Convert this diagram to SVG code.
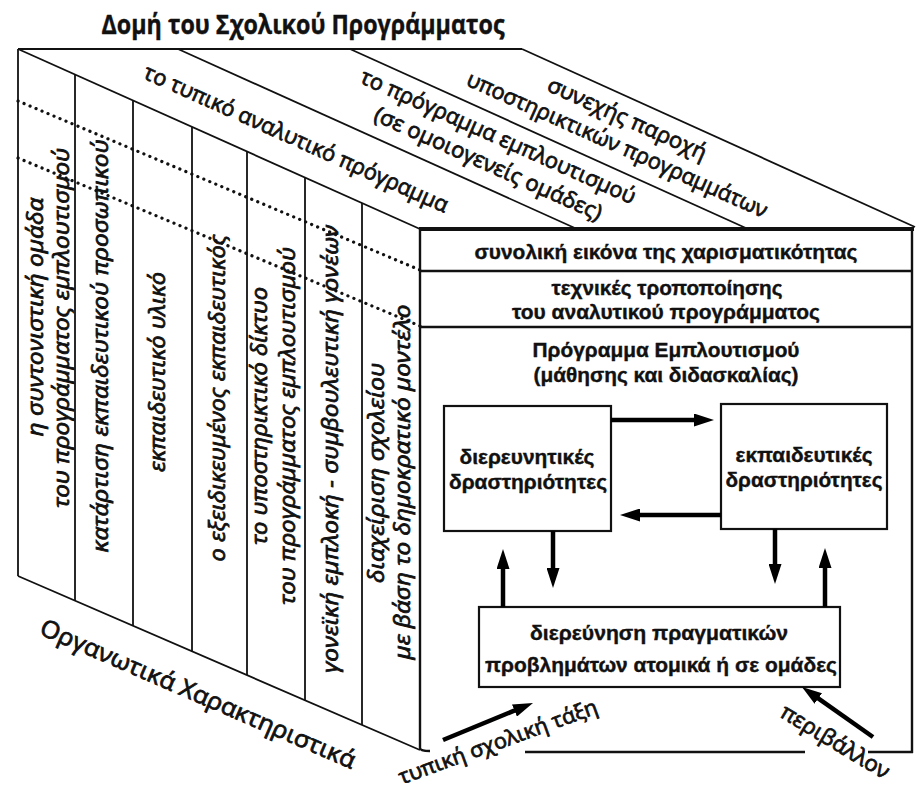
<svg xmlns="http://www.w3.org/2000/svg" width="922" height="794" viewBox="0 0 922 794">
<style>
.ln{stroke:#111;stroke-width:1.8;fill:none}
.fl{stroke:#111;stroke-width:2.4;fill:none}
.dot{stroke:#111;stroke-width:3.2;stroke-linecap:round;stroke-dasharray:0.1 6.4;fill:none}
.box{stroke:#111;stroke-width:2.2;fill:#fff}
.arr{stroke:#000;stroke-width:4.5;fill:none}
.hum{font-family:"Open Sans","DejaVu Sans",sans-serif;fill:#111;stroke:#111;stroke-width:0.8}
.it{font-family:"Open Sans","DejaVu Sans",sans-serif;font-style:italic;font-size:22px;fill:#111;stroke:#111;stroke-width:0.8;text-anchor:middle}
.top{font-family:"Open Sans","DejaVu Sans",sans-serif;font-size:22px;fill:#111;stroke:#111;stroke-width:0.8;text-anchor:middle}
.ar{font-family:"Liberation Sans",Arial,sans-serif;font-weight:bold;font-size:21px;fill:#111;stroke:#111;stroke-width:0.4;text-anchor:middle}
</style>
<defs>
<marker id="ah" viewBox="0 0 20 13" refX="1" refY="6.5" markerWidth="20" markerHeight="13" markerUnits="userSpaceOnUse" orient="auto">
<path d="M0,0 L20,6.5 L0,13 z" fill="#000"/>
</marker>
</defs>
<rect width="922" height="794" fill="#fff"/>

<g id="title">
<text x="303" y="34" font-family="'Open Sans','DejaVu Sans',sans-serif" fill="#111" stroke="#111" stroke-width="0.4" font-size="26" font-weight="bold" text-anchor="middle" textLength="403" lengthAdjust="spacingAndGlyphs">Δομή του Σχολικού Προγράμματος</text>
</g>

<g id="top-face">
<line class="ln" x1="18" y1="49" x2="522" y2="49"/>
<line class="ln" x1="18" y1="49" x2="420" y2="229"/>
<line class="ln" x1="178" y1="49" x2="577" y2="229"/>
<line class="ln" x1="350" y1="49" x2="748" y2="229"/>
<line class="ln" x1="522" y1="49" x2="915" y2="227"/>
<g id="strip-typical">
<text class="top" transform="translate(296,139) rotate(24.1)" y="7" textLength="331" lengthAdjust="spacingAndGlyphs">το τυπικό αναλυτικό πρόγραμμα</text>
</g>
<g id="strip-enrichment">
<text class="top" transform="translate(498,137) rotate(24.1)" y="7" textLength="299" lengthAdjust="spacingAndGlyphs">το πρόγραμμα εμπλουτισμού</text>
<text class="top" transform="translate(488,164) rotate(24.1)" y="7" textLength="247" lengthAdjust="spacingAndGlyphs">(σε ομοιογενείς ομάδες)</text>
</g>
<g id="strip-support">
<text class="top" transform="translate(627,119) rotate(24.1)" y="7" textLength="172" lengthAdjust="spacingAndGlyphs">συνεχής παροχή</text>
<text class="top" transform="translate(617,145) rotate(24.1)" y="7" textLength="327" lengthAdjust="spacingAndGlyphs">υποστηρικτικών προγραμμάτων</text>
</g>
</g>

<g id="left-face">
<line class="ln" x1="18" y1="49" x2="18" y2="576"/>
<line class="ln" x1="18" y1="576" x2="420" y2="750"/>
<line class="ln" x1="75" y1="74.5" x2="75" y2="600.7"/>
<line class="ln" x1="133" y1="100.5" x2="133" y2="625.8"/>
<line class="ln" x1="192" y1="126.9" x2="192" y2="651.3"/>
<line class="ln" x1="247" y1="151.5" x2="247" y2="675.1"/>
<line class="ln" x1="305" y1="177.5" x2="305" y2="700.2"/>
<line class="ln" x1="362" y1="203" x2="362" y2="724.9"/>
<path class="dot" d="M18,101 L420,270"/>
<path class="dot" d="M18,158 L420,326"/>
<g id="panel-1">
<text class="it" transform="translate(36,317) rotate(-90)" y="7" textLength="239" lengthAdjust="spacingAndGlyphs">η συντονιστική ομάδα</text>
<text class="it" transform="translate(62,328) rotate(-90)" y="7" textLength="360" lengthAdjust="spacingAndGlyphs">του προγράμματος εμπλουτισμού</text>
</g>
<g id="panel-2">
<text class="it" transform="translate(101,346) rotate(-90)" y="7" textLength="413" lengthAdjust="spacingAndGlyphs">κατάρτιση εκπαιδευτικού προσωπικού</text>
</g>
<g id="panel-3">
<text class="it" transform="translate(158,372) rotate(-90)" y="7" textLength="200" lengthAdjust="spacingAndGlyphs">εκπαιδευτικό υλικό</text>
</g>
<g id="panel-4">
<text class="it" transform="translate(218,398) rotate(-90)" y="7" textLength="327" lengthAdjust="spacingAndGlyphs">ο εξειδικευμένος εκπαιδευτικός</text>
</g>
<g id="panel-5">
<text class="it" transform="translate(260,416) rotate(-90)" y="7" textLength="258" lengthAdjust="spacingAndGlyphs">το υποστηρικτικό δίκτυο</text>
<text class="it" transform="translate(288,426) rotate(-90)" y="7" textLength="358" lengthAdjust="spacingAndGlyphs">του προγράμματος εμπλουτισμού</text>
</g>
<g id="panel-6">
<text class="it" transform="translate(331,449) rotate(-90)" y="7" textLength="448" lengthAdjust="spacingAndGlyphs">γονεϊκή εμπλοκή - συμβουλευτική γονέων</text>
</g>
<g id="panel-7">
<text class="it" transform="translate(377,473) rotate(-90)" y="7" textLength="220" lengthAdjust="spacingAndGlyphs">διαχείριση σχολείου</text>
<text class="it" transform="translate(403,482) rotate(-90)" y="7" textLength="355" lengthAdjust="spacingAndGlyphs">με βάση το δημοκρατικό μοντέλο</text>
</g>
<g id="org-label">
<text class="hum" font-size="24" text-anchor="middle" transform="translate(198,694) rotate(23.4)" y="8" textLength="341" lengthAdjust="spacingAndGlyphs">Οργανωτικά Χαρακτηριστικά</text>
</g>
</g>

<g id="front-face">
<line x1="419" y1="229" x2="914" y2="229" stroke="#111" stroke-width="4"/>
<path class="fl" d="M420,229 V748 Q420,751 430,751"/>
<line class="fl" x1="912" y1="229" x2="912" y2="753"/>
<line class="fl" x1="525" y1="752" x2="805" y2="752"/>
<line class="fl" x1="868" y1="752" x2="913" y2="752"/>
<line class="fl" x1="420" y1="271" x2="912" y2="271"/>
<line class="fl" x1="420" y1="327" x2="912" y2="327"/>
<g id="band-giftedness">
<text class="ar" x="666" y="259" textLength="383" lengthAdjust="spacingAndGlyphs">συνολική εικόνα της χαρισματικότητας</text>
</g>
<g id="band-techniques">
<text class="ar" x="667" y="295" textLength="231" lengthAdjust="spacingAndGlyphs">τεχνικές τροποποίησης</text>
<text class="ar" x="666" y="319" textLength="308" lengthAdjust="spacingAndGlyphs">του αναλυτικού προγράμματος</text>
</g>
<g id="band-program">
<text class="ar" x="666" y="357" textLength="267" lengthAdjust="spacingAndGlyphs">Πρόγραμμα Εμπλουτισμού</text>
<text class="ar" x="666" y="382" textLength="265" lengthAdjust="spacingAndGlyphs">(μάθησης και διδασκαλίας)</text>
</g>
</g>

<g id="box-exploratory">
<rect class="box" x="444" y="406" width="167" height="125"/>
<text class="ar" x="527" y="464" font-size="22" textLength="135" lengthAdjust="spacingAndGlyphs">διερευνητικές</text>
<text class="ar" x="528" y="489" font-size="22" textLength="158" lengthAdjust="spacingAndGlyphs">δραστηριότητες</text>
</g>
<g id="box-educational">
<rect class="box" x="721" y="404" width="166" height="125"/>
<text class="ar" x="804" y="462" font-size="22" textLength="137" lengthAdjust="spacingAndGlyphs">εκπαιδευτικές</text>
<text class="ar" x="804" y="487" font-size="22" textLength="157" lengthAdjust="spacingAndGlyphs">δραστηριότητες</text>
</g>
<g id="box-problems">
<rect class="box" x="479" y="607" width="361" height="80"/>
<text class="ar" x="659" y="640" font-size="22" textLength="258" lengthAdjust="spacingAndGlyphs">διερεύνηση πραγματικών</text>
<text class="ar" x="661" y="672" font-size="22" textLength="352" lengthAdjust="spacingAndGlyphs">προβλημάτων ατομικά ή σε ομάδες</text>
</g>
<g id="label-classroom">
<text class="hum" font-size="21" text-anchor="middle" transform="translate(498,742) rotate(-20)" y="7" textLength="210" lengthAdjust="spacingAndGlyphs">τυπική σχολική τάξη</text>
</g>
<g id="label-environment">
<text class="hum" font-size="22" text-anchor="middle" transform="translate(835,742) rotate(31)" y="7" textLength="123" lengthAdjust="spacingAndGlyphs">περιβάλλον</text>
</g>

<g id="connectors">
<line class="arr" x1="611" y1="420" x2="695" y2="420" marker-end="url(#ah)"/>
<line class="arr" x1="721" y1="515" x2="639" y2="515" marker-end="url(#ah)"/>
<line class="arr" x1="553" y1="531" x2="553" y2="569" marker-end="url(#ah)"/>
<line class="arr" x1="775" y1="529" x2="775" y2="565" marker-end="url(#ah)"/>
<line class="arr" x1="503" y1="607" x2="503" y2="568" marker-end="url(#ah)"/>
<line class="arr" x1="825" y1="607" x2="825" y2="567" marker-end="url(#ah)"/>
<line class="arr" x1="443" y1="740" x2="515.4" y2="710.2" marker-end="url(#ah)"/>
<line class="arr" x1="873" y1="737" x2="817.5" y2="697.9" marker-end="url(#ah)"/>
</g>
</svg>
